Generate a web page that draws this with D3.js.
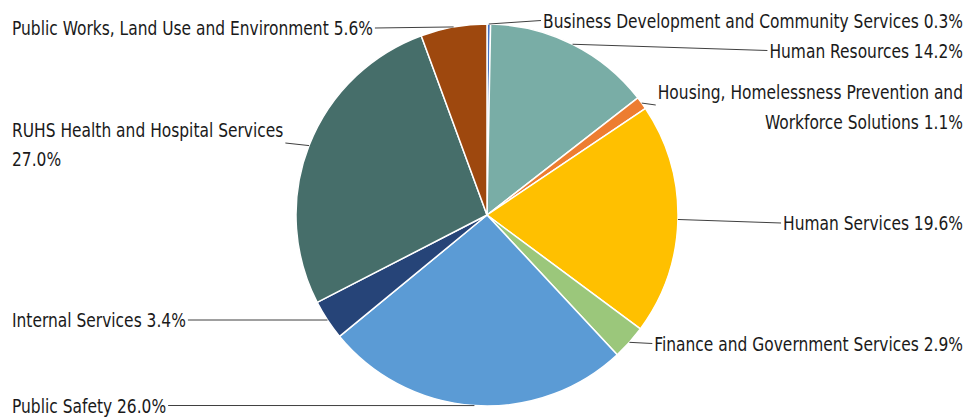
<!DOCTYPE html>
<html>
<head>
<meta charset="utf-8">
<script src="https://cdn.jsdelivr.net/npm/d3@7"></script>
<style>
  html, body { margin: 0; padding: 0; background: #fff; }
  svg text { font-family: "Liberation Sans Narrow", "DejaVu Sans Condensed", "DejaVu Sans", sans-serif; font-stretch: condensed; fill: #1a1a1a; }
</style>
</head>
<body>
<svg id="chart" width="971" height="420"></svg>
<script>
// ---- Data ----
const categories = [
  "Business Development and Community Services",
  "Human Resources",
  "Housing, Homelessness Prevention and Workforce Solutions",
  "Human Services",
  "Finance and Government Services",
  "Public Safety",
  "Internal Services",
  "RUHS Health and Hospital Services",
  "Public Works, Land Use and Environment"
];
const values = [0.3, 14.2, 1.1, 19.6, 2.9, 26.0, 3.4, 27.0, 5.6];
const colors = ["#4472C4", "#79ADA6", "#ED7D31", "#FFC000", "#9BC77B", "#5B9BD5", "#264478", "#466E6A", "#9E480E"];

// ---- Label layout (positions only) ----
const labelLayout = [
  { side: "right", ys: [20.5] },
  { side: "right", ys: [50.5] },
  { side: "right", ys: [92, 122], ly: 105, wrap: 4 },
  { side: "right", ys: [223] },
  { side: "right", ys: [343.5] },
  { side: "left",  ys: [405.5] },
  { side: "left",  ys: [320] },
  { side: "left",  ys: [130, 159], ly: 143, wrap: 5 },
  { side: "left",  ys: [28] }
];

const svg = d3.select("#chart");
const cx = 487, cy = 215, r = 191;
const leftX = 12, rightX = 963;
const fontSize = 20;
const squeeze = 0.86;

const data = categories.map((c, i) => ({ name: c, value: values[i], color: colors[i], layout: labelLayout[i] }));

const pie = d3.pie().value(d => d.value).sort(null).startAngle(0).endAngle(2 * Math.PI);
const arcs = pie(data);
const arc = d3.arc().innerRadius(0).outerRadius(r);

const g = svg.append("g").attr("transform", `translate(${cx},${cy})`);
g.selectAll("path.slice")
  .data(arcs)
  .join("path")
  .attr("class", "slice")
  .attr("d", arc)
  .attr("fill", d => d.data.color)
  .attr("stroke", "#fff")
  .attr("stroke-width", 1.5)
  .attr("stroke-linejoin", "round");

const lineLayer = svg.append("g");
const textLayer = svg.append("g");

arcs.forEach(a => {
  const d = a.data, L = d.layout;
  const label = `${d.name} ${d3.format(".1f")(d.value)}%`;
  let lines = [label];
  if (L.wrap) {
    const words = label.split(" ");
    lines = [words.slice(0, L.wrap).join(" "), words.slice(L.wrap).join(" ")];
  }
  let maxW = 0;
  lines.forEach((ln, k) => {
    const gx = L.side === "right" ? rightX : leftX;
    const tg = textLayer.append("g")
      .attr("transform", `translate(${gx},${L.ys[k]}) scale(${squeeze},1)`);
    const t = tg.append("text")
      .attr("x", 0)
      .attr("y", 0)
      .attr("dy", "0.36em")
      .attr("text-anchor", L.side === "right" ? "end" : "start")
      .attr("font-size", fontSize)
      .text(ln);
    maxW = Math.max(maxW, t.node().getComputedTextLength() * squeeze);
  });
  const mid = (a.startAngle + a.endAngle) / 2;
  const px = cx + r * Math.sin(mid), py = cy - r * Math.cos(mid);
  const ly = L.ly !== undefined ? L.ly : L.ys[0];
  const lx = L.side === "right" ? rightX - maxW - 2 : leftX + maxW + 2;
  lineLayer.append("line")
    .attr("x1", px).attr("y1", py)
    .attr("x2", lx).attr("y2", ly)
    .attr("stroke", "#404040")
    .attr("stroke-width", 1);
});
</script>
</body>
</html>
